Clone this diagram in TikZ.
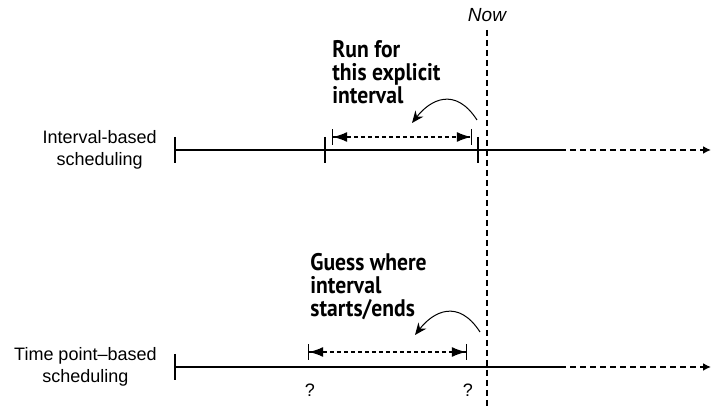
\documentclass[tikz,border=0pt]{standalone}
\usepackage{fontspec}
\setmainfont{Liberation Sans}
\newfontfamily\calloutfont[FakeStretch=0.9]{PT Sans}
\usetikzlibrary{arrows.meta,positioning}

\tikzset{
  timeline/.style={line width=0.8pt},
  future/.style={line width=0.8pt, dash pattern=on 3.2pt off 1.8pt, -{Latex[length=4pt,width=4pt]}},
  span/.style={line width=0.55pt, dash pattern=on 2pt off 1.5pt,
    {Bar[width=8pt,line width=0.6pt]Latex[length=7pt,width=5pt]}-{Latex[length=7pt,width=5pt]Bar[width=8pt,line width=0.6pt]}},
  pointer/.style={line width=0.5pt, -{Stealth[length=6pt,width=5pt]}},
  callout/.style={font=\calloutfont\bfseries\fontsize{12}{11.5}\selectfont, align=left, inner sep=0pt, anchor=north west},
  rowlabel/.style={font=\fontsize{9}{11}\selectfont, align=center, inner sep=0pt, anchor=east}
}

\begin{document}
\begin{tikzpicture}[x=0.5pt,y=-0.5pt]
\useasboundingbox (0,0) rectangle (713,410);

% the "now" line
\coordinate (nowtop) at (487,30);
\coordinate (nowbot) at (487,410);
\node (now) at (487,22) [anchor=base, inner sep=0pt, font=\fontsize{9.5}{11}\selectfont\itshape] {Now};
\draw[line width=0.6pt, dash pattern=on 3pt off 2pt] (nowtop) -- (nowbot);

% interval-based row
\coordinate (ib0) at (175,150);
\coordinate (ib1) at (325,150);
\coordinate (ib2) at (478,150);
\coordinate (ibsolid) at (560,150);
\coordinate (ibend) at (711,150);
\node (iblabel) [rowlabel, left=9pt of ib0] {Interval-based\\scheduling};
\draw[timeline] (ib0) -- (ibsolid);
\draw[future] (ibsolid) -- (ibend);
\foreach \t in {ib0,ib1,ib2}
  \draw[timeline] (\t) ++(0,-13) -- ++(0,26);
\coordinate (ibfrom) at (332,137);
\coordinate (ibto) at (472,137);
\draw[span] (ibfrom) -- (ibto);
\coordinate (ibcurve) at (477,120);
\coordinate (ibaim) at (412,123);
\draw[pointer] (ibcurve) .. controls (455,86) and (430,100) .. (ibaim);
\node (runfor) at (332,40) [callout] {Run for\\this explicit\\interval};

% time point-based row
\coordinate (tp0) at (175,367);
\coordinate (tpsolid) at (560,367);
\coordinate (tpend) at (711,367);
\node (tplabel) [rowlabel, left=9pt of tp0] {Time point--based\\scheduling};
\draw[timeline] (tp0) -- (tpsolid);
\draw[future] (tpsolid) -- (tpend);
\draw[timeline] (tp0) ++(0,-13) -- ++(0,26);
\coordinate (tpfrom) at (308,352);
\coordinate (tpto) at (467,352);
\draw[span] (tpfrom) -- (tpto);
\coordinate (tpcurve) at (480,332);
\coordinate (tpaim) at (415,335);
\draw[pointer] (tpcurve) .. controls (458,298) and (433,312) .. (tpaim);
\node (guess) at (310,253) [callout] {Guess where\\interval\\starts/ends};
\node (qstart) at (310,390) [font=\fontsize{9}{11}\selectfont] {?};
\node (qend) at (468,390) [font=\fontsize{9}{11}\selectfont] {?};
\end{tikzpicture}
\end{document}
